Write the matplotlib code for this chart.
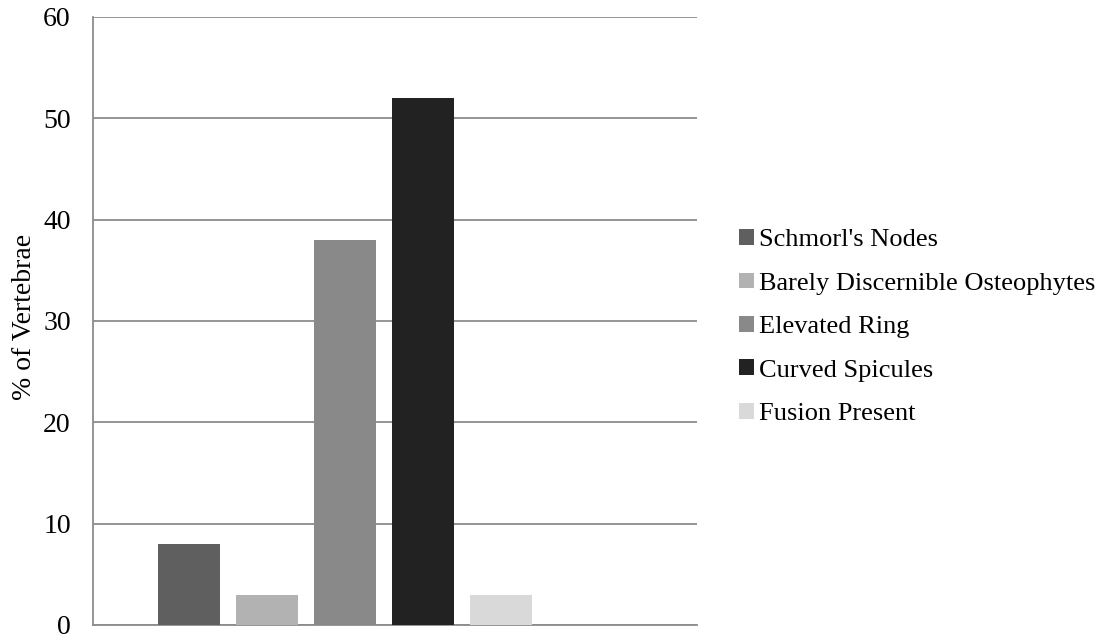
import matplotlib
matplotlib.use('Agg')
import matplotlib.pyplot as plt

# categories and % values
labels = ["Schmorl's Nodes", "Barely Discernible Osteophytes", "Elevated Ring",
          "Curved Spicules", "Fusion Present"]
values = [8, 3, 38, 52, 3]
colors = ['#5f5f5f', '#b2b2b2', '#898989', '#222222', '#d9d9d9']

plt.rcParams['font.family'] = ['Liberation Serif', 'DejaVu Serif']

fig = plt.figure(figsize=(11.01, 6.34), dpi=100)
ax = fig.add_axes([0.0845, 0.0142, 0.5486, 0.9590])

for i, (lab, v, c) in enumerate(zip(labels, values, colors)):
    ax.bar(i, v, width=0.795, color=c, label=lab, zorder=3)

ax.set_xlim(-1.23, 6.51)
ax.set_ylim(0, 60)
ax.set_yticks(range(0, 61, 10))
ax.set_xticks([])
ax.tick_params(axis='y', length=0, labelsize=20, pad=16)
ax.yaxis.grid(True, color='#8c8c8c', linewidth=1.3, zorder=0)
for s in ['top', 'right']:
    ax.spines[s].set_visible(False)
ax.spines['left'].set_color('#8c8c8c')
ax.spines['bottom'].set_color('#8c8c8c')
ax.spines['left'].set_linewidth(1.3)
ax.spines['bottom'].set_linewidth(1.3)
ax.set_ylabel('% of Vertebrae', fontsize=20)
ax.yaxis.set_label_coords(-0.092, 0.507)

ax.legend(loc='center left', bbox_to_anchor=(1.052, 0.49), frameon=False,
          fontsize=19, handlelength=0.55, handleheight=0.55, handletextpad=0.2,
          labelspacing=0.8, borderaxespad=0)

fig.savefig('out.png', dpi=100)
